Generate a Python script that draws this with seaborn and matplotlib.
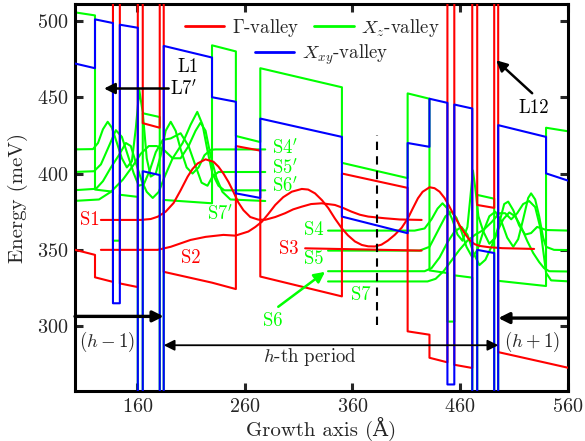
import numpy as np
import pandas as pd
import matplotlib
matplotlib.use('Agg')
import matplotlib.pyplot as plt
import seaborn as sns

sns.set_style('ticks')
plt.rcParams['font.family'] = ['cmr10', 'DejaVu Serif']
plt.rcParams['mathtext.fontset'] = 'cm'
plt.rcParams['axes.unicode_minus'] = False
plt.rcParams['axes.formatter.use_mathtext'] = True

RED, GREEN, BLUE = '#ff0000', '#00ff00', '#0000ff'

# ---------------- data ----------------
# layer edges along growth axis (Angstrom)
layer_edges = [100, 120.6, 137.3, 143.7, 160.4, 165.0, 180.8, 184.5, 229.4, 251.6,
               274.3, 350.2, 411.3, 431.6, 448.3, 454.7, 471.4, 476.0, 491.8, 495.5,
               540.0, 562.0]
# band-edge energy (meV) at start / end of every layer
gamma_start = [350.4, 332.0, 600, 328.0, 600, 433.0, 600, 335.6, 328.5, 418.0,
               332.5, 400.0, 296.6, 279.3, 600, 274.7, 600, 379.4, 600, 283.0, 276.0]
gamma_end   = [346.7, 329.0, 600, 325.6, 600, 430.0, 600, 328.5, 324.3, 415.0,
               319.5, 390.6, 294.4, 276.3, 600, 272.6, 600, 377.5, 600, 276.0, 272.5]
xz_start    = [505.8, 389.5, 356.0, 386.1, 200, 439.5, 200, 382.7, 484.0, 424.6,
               469.0, 407.0, 452.5, 336.5, 303.0, 333.3, 200, 386.0, 200, 329.7, 430.0]
xz_end      = [503.6, 388.1, 356.0, 384.7, 200, 437.0, 200, 380.5, 480.0, 420.6,
               456.5, 397.0, 449.0, 334.8, 303.0, 331.8, 200, 383.5, 200, 326.3, 427.5]
xxy_start   = [472.4, 501.0, 315.0, 497.5, 200, 401.5, 200, 483.6, 450.0, 387.0,
               436.0, 371.8, 420.0, 449.0, 261.8, 445.2, 200, 350.0, 200, 431.7, 400.1]
xxy_end     = [469.0, 498.6, 315.0, 495.5, 200, 399.0, 200, 476.0, 447.0, 384.0,
               424.0, 360.9, 417.5, 446.3, 261.8, 442.6, 200, 347.9, 200, 424.0, 395.0]

# Gamma-valley wavefunctions (position, energy)
s1_x = [126.1, 163.2, 172.4, 178.9, 186.3, 193.7, 200.2, 206.7, 211.3, 216.0, 223.4, 230.8,
        235.4, 240.0, 244.7, 249.3, 253.9, 258.6, 265.0, 272.4, 278.9, 288.2, 297.4, 304.8,
        312.9, 321.5, 331.4, 343.7, 351.1, 359.2, 366.9, 374.6, 390.0, 403.9, 424.3]
s1_e = [369.6, 369.6, 370.2, 371.7, 375.0, 380.7, 389.0, 397.9, 403.0, 406.6, 409.3, 407.7,
        404.5, 400.0, 394.5, 388.0, 381.0, 376.0, 371.5, 369.8, 369.7, 371.5, 374.0, 376.5,
        378.3, 380.0, 380.5, 379.4, 377.5, 375.0, 373.0, 371.8, 370.7, 369.9, 369.6]
s2_x = [126.1, 178.9, 191.0, 209.5, 223.4, 240.0, 251.1, 263.2, 269.7, 275.9, 281.7, 288.2,
        295.6, 303.6, 312.9, 318.8, 325.2, 331.7, 337.6, 343.7, 349.9, 355.8, 362.3, 368.7,
        374.6, 380.8, 387.0, 392.8, 399.3, 405.8, 411.6, 416.0, 420.9, 425.2, 431.7, 436.3,
        441.0, 445.6, 450.2, 454.9, 459.5, 464.2, 468.8, 473.4, 478.0, 487.3, 499.3, 528.9]
s2_e = [350.0, 350.0, 352.0, 356.5, 358.5, 359.8, 359.3, 362.0, 365.0, 368.5, 373.5, 379.4,
        384.5, 388.1, 389.9, 389.5, 387.0, 382.5, 377.3, 370.5, 364.3, 359.5, 355.5, 353.2,
        352.3, 352.2, 353.4, 356.0, 359.8, 364.5, 370.7, 377.0, 383.8, 388.0, 391.0, 390.4,
        388.1, 384.0, 378.3, 372.0, 366.3, 361.0, 356.5, 353.8, 352.6, 351.7, 351.1, 350.6]
s3_x = [316.0, 424.3]
s3_e = [351.0, 349.5]

# X_z-valley wavefunctions, previous period (primed)
s4p_x = [100.0, 118.7, 123.4, 128.0, 132.4, 136.3, 141.0, 145.6, 150.2, 154.9, 158.6, 161.8,
         165.0, 168.7, 172.4, 177.1, 181.7, 186.3, 191.0, 195.6, 200.2, 205.8, 211.3, 216.9,
         222.4, 228.0, 232.6, 278.9]
s4p_e = [415.8, 416.0, 420.0, 429.0, 433.9, 430.0, 420.0, 410.0, 404.0, 408.0, 430.0, 454.6,
         440.0, 410.0, 398.0, 400.0, 412.0, 428.0, 433.9, 428.0, 416.0, 404.0, 400.0, 404.0,
         412.0, 415.5, 415.8, 415.8]
s5p_x = [100.0, 119.7, 126.1, 133.6, 140.0, 145.6, 151.1, 156.7, 161.3, 166.0, 171.5, 177.1,
         183.6, 191.0, 200.2, 207.6, 214.1, 219.7, 225.2, 229.8, 235.4, 278.9]
s5p_e = [401.0, 401.5, 406.0, 418.0, 428.4, 424.0, 412.0, 400.0, 392.0, 393.0, 402.0, 414.0,
         422.0, 423.0, 426.4, 418.0, 405.0, 394.0, 392.0, 398.0, 401.0, 401.0]
s6p_x = [100.0, 121.5, 128.0, 135.4, 142.8, 149.3, 153.9, 159.5, 164.1, 168.7, 174.3, 179.9,
         185.4, 192.8, 202.1, 209.5, 215.7, 220.6, 225.2, 229.8, 235.4, 240.9, 278.9]
s6p_e = [389.0, 390.0, 395.0, 404.0, 412.0, 420.0, 418.0, 405.0, 395.0, 388.0, 384.0, 388.0,
         398.0, 410.0, 420.0, 432.0, 440.4, 432.0, 415.0, 400.0, 392.0, 389.0, 389.0]
s7p_x = [100.0, 124.3, 135.4, 146.5, 155.8, 163.2, 170.6, 178.0, 185.4, 192.8, 200.2, 207.6,
         214.1, 218.7, 223.4, 228.0, 233.6, 239.1, 246.5, 278.9]
s7p_e = [382.0, 383.0, 388.0, 396.0, 405.0, 413.0, 418.0, 418.0, 415.0, 410.0, 410.0, 418.0,
         428.0, 433.3, 428.0, 412.0, 397.0, 388.0, 383.0, 382.0]

# X_z-valley wavefunctions, h-th period
s4_x = [337.3, 417.8, 427.1, 433.5, 439.1, 443.7, 448.4, 453.0, 457.7, 462.3, 466.9, 469.7,
        472.0, 474.3, 477.1, 481.7, 487.3, 492.8, 497.4, 501.1, 504.8, 509.5, 515.0, 520.6,
        526.1, 531.7, 536.3, 540.0, 562.0]
s4_e = [362.6, 362.6, 364.0, 370.0, 377.0, 380.5, 377.0, 369.6, 360.0, 356.0, 365.0, 385.0,
        402.0, 390.0, 372.0, 362.0, 354.0, 358.0, 370.0, 380.0, 381.6, 376.0, 366.0, 360.0,
        361.0, 365.0, 364.0, 363.0, 362.6]
s5_x = [337.3, 422.4, 431.7, 439.1, 446.5, 452.1, 456.7, 461.4, 466.0, 471.5, 476.2, 481.7,
        487.3, 492.8, 498.3, 503.9, 509.5, 514.1, 518.7, 523.4, 526.1, 529.9, 533.6, 537.3,
        540.0, 547.4, 562.0]
s5_e = [349.5, 349.5, 352.0, 362.0, 372.0, 375.0, 371.0, 362.0, 352.0, 345.0, 350.0, 362.0,
        372.0, 375.0, 369.0, 358.0, 352.0, 357.0, 370.0, 384.0, 387.0, 383.0, 372.0, 358.0,
        352.0, 350.0, 349.8]
s6_x = [337.3, 427.1, 433.5, 441.0, 448.4, 454.9, 461.4, 466.9, 472.5, 478.0, 483.6, 489.2,
        494.6, 500.2, 505.8, 511.3, 516.9, 522.4, 528.0, 533.6, 538.2, 542.9, 562.0]
s6_e = [336.0, 336.0, 338.0, 345.0, 355.0, 362.0, 365.0, 360.0, 348.0, 340.0, 343.5, 352.0,
        362.0, 370.0, 374.5, 372.0, 365.0, 356.0, 348.0, 342.0, 338.0, 336.0, 335.8]
s7_x = [337.3, 429.8, 437.3, 444.7, 452.1, 459.5, 466.9, 474.3, 481.7, 489.2, 496.5, 502.0,
        507.6, 513.2, 518.7, 524.3, 529.9, 534.5, 538.2, 540.0, 544.7, 562.0]
s7_e = [329.3, 329.3, 331.0, 336.0, 343.0, 350.0, 356.0, 360.0, 363.0, 368.0, 374.0, 374.0,
        370.0, 374.0, 380.0, 382.0, 378.0, 365.0, 345.0, 335.0, 330.0, 329.3]

x_ticks = [160, 260, 360, 460, 560]
y_ticks = [300, 350, 400, 450, 500]


def profile(edges, start, end):
    xs, ys = [], []
    for i in range(len(start)):
        xs += [edges[i], edges[i + 1]]
        ys += [start[i], end[i]]
    return pd.DataFrame({'x': xs, 'E': ys})


fig = plt.figure(figsize=(5.85, 4.41), dpi=100)
ax = fig.add_axes([0.1282, 0.114, 0.8427, 0.876])

LW = 1.5
def draw(df, color, z, label=None):
    sns.lineplot(data=df, x='x', y='E', sort=False, estimator=None, color=color,
                 lw=LW, ax=ax, zorder=z, label=label, legend=False)

# wavefunctions
for xs, es in [(s4p_x, s4p_e), (s5p_x, s5p_e), (s6p_x, s6p_e), (s7p_x, s7p_e),
               (s4_x, s4_e), (s5_x, s5_e), (s6_x, s6_e), (s7_x, s7_e)]:
    draw(pd.DataFrame({'x': xs, 'E': es}), GREEN, 2)
for xs, es in [(s1_x, s1_e), (s2_x, s2_e), (s3_x, s3_e)]:
    draw(pd.DataFrame({'x': xs, 'E': es}), RED, 3)

# band edges
draw(profile(layer_edges, xz_start, xz_end), GREEN, 2.5)
draw(profile(layer_edges, gamma_start, gamma_end), RED, 3.5)
draw(profile(layer_edges, xxy_start, xxy_end), BLUE, 4)

ax.set_xlim(102, 560.4)
ax.set_ylim(257.7, 510.8)
ax.set_xticks(x_ticks)
ax.set_yticks(y_ticks)
ax.tick_params(direction='in', top=True, right=True, length=6, width=2.2,
               labelsize=14.5, pad=5)
for sp in ax.spines.values():
    sp.set_linewidth(2.2)
    sp.set_color('black')
ax.set_xlabel('Growth axis (Å)', fontsize=15, labelpad=1)
ax.set_ylabel('Energy (meV)', fontsize=15, labelpad=6)

# legend
from matplotlib.lines import Line2D
h_g = Line2D([], [], color=RED, lw=2)
h_z = Line2D([], [], color=GREEN, lw=2)
h_x = Line2D([], [], color=BLUE, lw=2)
leg1 = ax.legend([h_g, h_z], [r'$\Gamma$-valley', r'$X_z$-valley'], ncol=2,
                 loc='upper left', bbox_to_anchor=(0.223, 0.968), frameon=False,
                 fontsize=13.5, handlelength=2.1, handletextpad=0.4,
                 columnspacing=0.8, borderpad=0, borderaxespad=0)
ax.add_artist(leg1)
ax.legend([h_x], [r'$X_{xy}$-valley'], loc='upper left', bbox_to_anchor=(0.365, 0.902),
          frameon=False, fontsize=13.5, handlelength=2.1, handletextpad=0.4,
          borderpad=0, borderaxespad=0)

# state labels
fs = 13.5
for txt, x, y, c in [('S1', 116.0, 369.6, RED), ('S2', 209.5, 344.8, RED),
                     ('S3', 301.1, 350.3, RED),
                     (r'S4$^\prime$', 297.5, 416.7, GREEN), (r'S5$^\prime$', 297.5, 403.9, GREEN),
                     (r'S6$^\prime$', 297.5, 391.8, GREEN), (r'S7$^\prime$', 237.3, 373.2, GREEN),
                     ('S4', 324.3, 363.1, GREEN), ('S5', 324.3, 344.1, GREEN),
                     ('S6', 286.3, 303.6, GREEN), ('S7', 367.8, 320.6, GREEN),
                     ('L1', 206.7, 469.6, 'black'), (r'L7$^\prime$', 203.5, 455.2, 'black'),
                     ('L12', 528.9, 443.1, 'black')]:
    ax.text(x, y, txt, color=c, fontsize=fs, ha='center', va='center', zorder=6)

ax.text(131.7, 290.0, r'$(h-1)$', fontsize=fs, ha='center', va='center')
ax.text(527.1, 290.0, r'$(h+1)$', fontsize=fs, ha='center', va='center')
ax.text(320.6, 280.0, r'$h$-th period', fontsize=fs, ha='center', va='center')

arw = dict(arrowstyle='-|>', color='black', lw=1.8, mutation_scale=16, shrinkA=0, shrinkB=0)
ax.annotate('', xy=(129.0, 455.7), xytext=(189.1, 455.7), arrowprops=arw, zorder=7)
ax.annotate('', xy=(493.7, 474.2), xytext=(527.1, 452.6), arrowprops=arw, zorder=7)
ax.annotate('', xy=(184.5, 306.4), xytext=(102.0, 306.4),
            arrowprops=dict(arw, lw=2.4), zorder=7, annotation_clip=False)
ax.annotate('', xy=(495.6, 305.3), xytext=(560.4, 305.3),
            arrowprops=dict(arw, lw=2.4), zorder=7, annotation_clip=False)
ax.annotate('', xy=(184.5, 287.5), xytext=(495.6, 287.5),
            arrowprops=dict(arrowstyle='<|-|>', color='black', lw=1.3, mutation_scale=16,
                            shrinkA=0, shrinkB=0), zorder=7)
ax.annotate('', xy=(334.5, 335.6), xytext=(291.0, 312.7),
            arrowprops=dict(arrowstyle='-|>', color=GREEN, lw=1.8, mutation_scale=16,
                            shrinkA=0, shrinkB=0), zorder=7)
ax.plot([382.9, 382.9], [301, 425], color='black', lw=1.5, ls=(0, (4, 3)), zorder=6)

fig.savefig('out.png', dpi=100)
